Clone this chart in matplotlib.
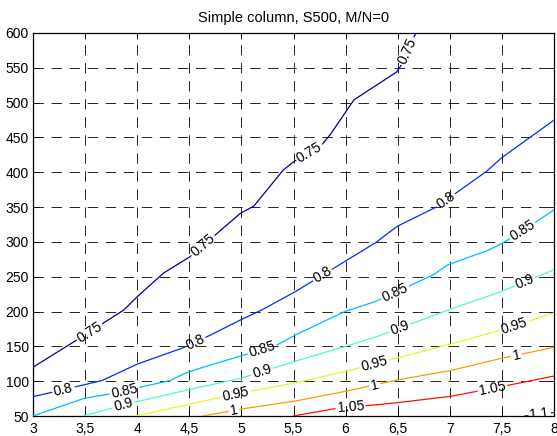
import numpy as np
import matplotlib
matplotlib.use('Agg')
import matplotlib.pyplot as plt

plt.rcParams['font.family'] = ['Liberation Sans', 'DejaVu Sans']
plt.rcParams['lines.scale_dashes'] = False

title = "Simple column, S500, M/N=0"
levels = [0.75, 0.8, 0.85, 0.9, 0.95, 1.0, 1.05, 1.1]
level_text = ["0.75", "0.8", "0.85", "0.9", "0.95", "1", "1.05", "1.1"]

x_075 = [3.0, 3.345, 3.87, 3.99, 4.25, 4.5, 4.71, 4.99, 5.12, 5.4, 5.5, 5.77, 5.85, 6.08, 6.49, 6.535, 6.68]
y_075 = [120, 152, 202, 220, 255, 278, 305, 341, 351.5, 403, 415, 439, 453.5, 504, 544, 554, 602]
x_080 = [3.0, 3.66, 3.99, 4.47, 4.70, 4.99, 5.18, 5.5, 5.99, 6.28, 6.49, 6.87, 7.35, 7.49, 7.78, 8.0]
y_080 = [77.7, 100.7, 124, 149.5, 166, 188, 201, 227, 271.6, 298, 322, 350, 401, 420, 451, 475]
x_085 = [3.0, 3.48, 3.75, 3.99, 4.31, 4.47, 4.60, 4.99, 5.34, 5.5, 5.99, 6.28, 6.84, 6.98, 7.37, 7.49, 7.7, 8.0]
y_085 = [50, 75, 82, 90, 100.7, 112, 118.5, 136, 152, 165, 200, 214, 252.5, 267, 288, 297, 316, 346]
x_090 = [3.48, 3.99, 4.47, 4.99, 5.5, 5.99, 6.28, 6.98, 7.49, 8.0]
y_090 = [50, 70.5, 87, 104, 128, 149.5, 163, 202, 228.5, 260]
x_095 = [3.99, 4.47, 4.99, 5.5, 5.99, 6.28, 6.98, 7.49, 8.0]
y_095 = [50, 66, 83, 97, 113.6, 125, 152, 173.5, 198]
x_100 = [4.63, 5.0, 5.5, 5.99, 6.49, 7.0, 7.49, 8.0]
y_100 = [50, 60, 71, 85, 101.7, 115, 132.8, 148.6]
x_105 = [5.5, 5.95, 6.28, 6.49, 7.0, 7.49, 8.0]
y_105 = [50, 62, 65.8, 69, 78, 92, 107.4]
x_110 = [7.72, 8.0]
y_110 = [50, 55]

label_x_075 = [3.54, 4.63, 5.65, 6.595]
label_x_080 = [3.29, 4.56, 5.78, 6.96]
label_x_085 = [3.88, 5.2, 6.475, 7.7]
label_x_090 = [3.87, 5.2, 6.52, 7.72]
label_x_095 = [4.95, 6.28, 7.62]
label_x_100 = [4.93, 6.28, 7.64]
label_x_105 = [6.05, 7.41]
label_x_110 = [7.86]

x_ticks = [3, 3.5, 4, 4.5, 5, 5.5, 6, 6.5, 7, 7.5, 8]
x_tick_labels = ["3", "3,5", "4", "4,5", "5", "5,5", "6", "6,5", "7", "7,5", "8"]
y_ticks = [50, 100, 150, 200, 250, 300, 350, 400, 450, 500, 550, 600]

curves = [(x_075, y_075, label_x_075), (x_080, y_080, label_x_080),
          (x_085, y_085, label_x_085), (x_090, y_090, label_x_090),
          (x_095, y_095, label_x_095), (x_100, y_100, label_x_100),
          (x_105, y_105, label_x_105), (x_110, y_110, label_x_110)]


def jet(t):
    r = np.clip(1.5 - abs(4 * t - 3), 0, 1)
    g = np.clip(1.5 - abs(4 * t - 2), 0, 1)
    b = np.clip(1.5 - abs(4 * t - 1), 0, 1)
    return (r, g, b)


fig = plt.figure(figsize=(5.57, 4.36), dpi=100)
ax = fig.add_axes([33 / 557, 20 / 436, 521 / 557, 383 / 436])
ax.set_xlim(3, 8)
ax.set_ylim(50, 600)
ax.set_xticks(x_ticks)
ax.set_xticklabels(x_tick_labels)
ax.set_yticks(y_ticks)
ax.tick_params(direction='in', top=True, right=True, length=4, width=0.6,
               labelsize=10, pad=4)
ax.tick_params(axis='y', pad=3)
ax.grid(True, color='k', linestyle=(0, (7.5, 5.5)), linewidth=0.6)
ax.set_axisbelow(True)
for s in ax.spines.values():
    s.set_linewidth(0.9)
ax.set_title(title, fontsize=10.5, pad=8)

fs = 10
fig.canvas.draw()
renderer = fig.canvas.get_renderer()
trans = ax.transData

for lev, txt, (xs, ys, lxs) in zip(levels, level_text, curves):
    color = jet(0.03 + (lev - 0.75) / 0.05 * 0.1386)
    xs = np.asarray(xs, float)
    ys = np.asarray(ys, float)
    pts = trans.transform(np.column_stack([xs, ys]))
    dense = [pts[0]]
    for a, b in zip(pts[:-1], pts[1:]):
        n = max(2, int(np.hypot(*(b - a)) / 0.5))
        dense.extend(np.linspace(a, b, n)[1:])
    dense = np.array(dense)
    arclen = np.concatenate([[0], np.cumsum(np.hypot(*np.diff(dense, axis=0).T))])
    mask = np.zeros(len(dense), bool)
    for lx in lxs:
        ly = np.interp(lx, xs, ys)
        p0 = trans.transform((lx, ly))
        i0 = np.argmin(np.hypot(*(dense - p0).T))
        j1 = max(i0 - 3, 0)
        j2 = min(i0 + 3, len(dense) - 1)
        d = dense[j2] - dense[j1]
        ang = np.degrees(np.arctan2(d[1], d[0]))
        if ang > 90:
            ang -= 180
        if ang < -90:
            ang += 180
        t = ax.text(lx, ly, txt, fontsize=fs, ha='center', va='center',
                    rotation=0, rotation_mode='anchor', clip_on=True, zorder=4)
        w = t.get_window_extent(renderer).width
        t.set_rotation(ang)
        mask |= np.abs(arclen - arclen[i0]) < w / 2 + 2
    dense_data = trans.inverted().transform(dense)
    dense_data[mask] = np.nan
    ax.plot(dense_data[:, 0], dense_data[:, 1], color=color, linewidth=0.9, zorder=3)

fig.savefig('out.png', dpi=100)
